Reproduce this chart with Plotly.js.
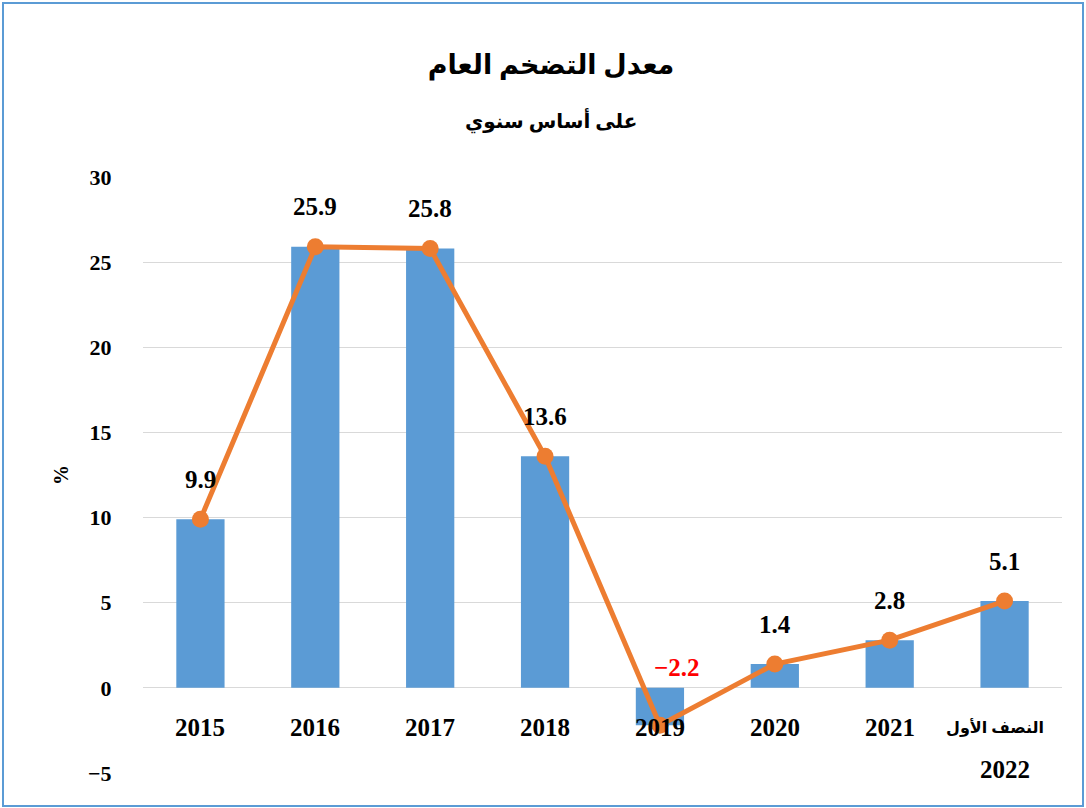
<!DOCTYPE html>
<html>
<head>
<meta charset="utf-8">
<script src="https://cdn.plot.ly/plotly-3.0.1.min.js"></script>
<style>
  html, body { margin: 0; padding: 0; background: #ffffff; }
  #wrap { position: relative; width: 1086px; height: 808px; }
  #chart { width: 1086px; height: 808px; }
  #frame { position: absolute; left: 2px; top: 2px; width: 1082px; height: 805px;
           border: 2px solid #5b9bd5; box-sizing: border-box; pointer-events: none; }
</style>
</head>
<body>
<div id="wrap">
  <div id="chart"></div>
  <div id="frame"></div>
</div>
<script>
// ---- data ----
const categories = ["2015", "2016", "2017", "2018", "2019", "2020", "2021", "النصف الأول<br>2022"];
const inflation = [9.9, 25.9, 25.8, 13.6, -2.2, 1.4, 2.8, 5.1];
const valueLabels = ["9.9", "25.9", "25.8", "13.6", "−2.2", "1.4", "2.8", "5.1"];
const yTicks = [-5, 0, 5, 10, 15, 20, 25, 30];

const titleText = "معدل التضخم العام";
const subtitleText = "على أساس سنوي";
const yTitleText = "%";

// ---- styles ----
const serif = "Liberation Serif, Times New Roman, DejaVu Serif, serif";
const arabic = "Liberation Serif, DejaVu Sans, sans-serif";
const barColor = "#5b9bd5";
const lineColor = "#ed7d31";

const barTrace = {
  type: "bar",
  x: categories,
  y: inflation,
  marker: { color: barColor, line: { width: 0 } },
  hoverinfo: "skip",
  showlegend: false
};

const lineTrace = {
  type: "scatter",
  mode: "lines+markers",
  x: categories,
  y: inflation,
  line: { color: lineColor, width: 5 },
  marker: { color: lineColor, size: 17 },
  hoverinfo: "skip",
  showlegend: false,
  cliponaxis: false
};

const annotations = [];

// value labels (x given as category index on the category axis)
inflation.forEach((v, i) => {
  const neg = v < 0;
  annotations.push({
    x: i, y: v, xref: "x", yref: "y",
    text: "<b>" + valueLabels[i] + "</b>",
    showarrow: false,
    xshift: neg ? 17 : 0,
    yshift: neg ? 58 : 40,
    font: { family: serif, size: 25, color: neg ? "#ff0000" : "#000000" }
  });
});

// category labels, placed just below the zero line (axis crosses at 0)
const hasArabic = (s) => /[\u0600-\u06FF]/.test(s);
categories.forEach((c, i) => {
  c.split("<br>").forEach((part, j) => {
    const ar = hasArabic(part);
    annotations.push({
      x: i, y: 0, xref: "x", yref: "y",
      text: "<b>" + part + "</b>",
      showarrow: false, yanchor: "middle",
      xshift: ar ? -10 : 0,
      yshift: -40 - 42 * j,
      font: { family: ar ? arabic : serif, size: ar ? 16 : 25, color: "#000000" }
    });
  });
});

annotations.push({
  text: "<b>" + subtitleText + "</b>",
  xref: "paper", yref: "paper", x: (551 - 143) / 919, y: 1.0956,
  xanchor: "center", yanchor: "middle", showarrow: false,
  font: { family: arabic, size: 20, color: "#000000" }
});

const layout = {
  width: 1086, height: 808,
  paper_bgcolor: "#ffffff", plot_bgcolor: "#ffffff",
  margin: { l: 143, r: 24, t: 177, b: 35 },
  title: {
    text: "<b>" + titleText + "</b>",
    x: 551 / 1086, xanchor: "center", y: 1 - 65 / 808, yanchor: "middle",
    font: { family: arabic, size: 27, color: "#000000" }
  },
  bargap: 0.58,
  xaxis: {
    type: "category",
    range: [-0.5, categories.length - 0.5],
    showgrid: false, zeroline: false, showline: false,
    showticklabels: false, ticks: "",
    fixedrange: true
  },
  yaxis: {
    range: [-5, 30],
    tickvals: yTicks,
    showgrid: true, gridcolor: "#d9d9d9", gridwidth: 1,
    zeroline: false, showline: false,
    ticks: "outside", ticklen: 26, tickcolor: "rgba(0,0,0,0)",
    tickfont: { family: serif, size: 22, color: "#000000", weight: "bold" },
    title: { text: "<b>" + yTitleText + "</b>", font: { family: serif, size: 20, color: "#000000" }, standoff: 14 },
    fixedrange: true
  },
  annotations: annotations
};

Plotly.newPlot("chart", [barTrace, lineTrace], layout, { staticPlot: true, displayModeBar: false });
</script>
</body>
</html>
